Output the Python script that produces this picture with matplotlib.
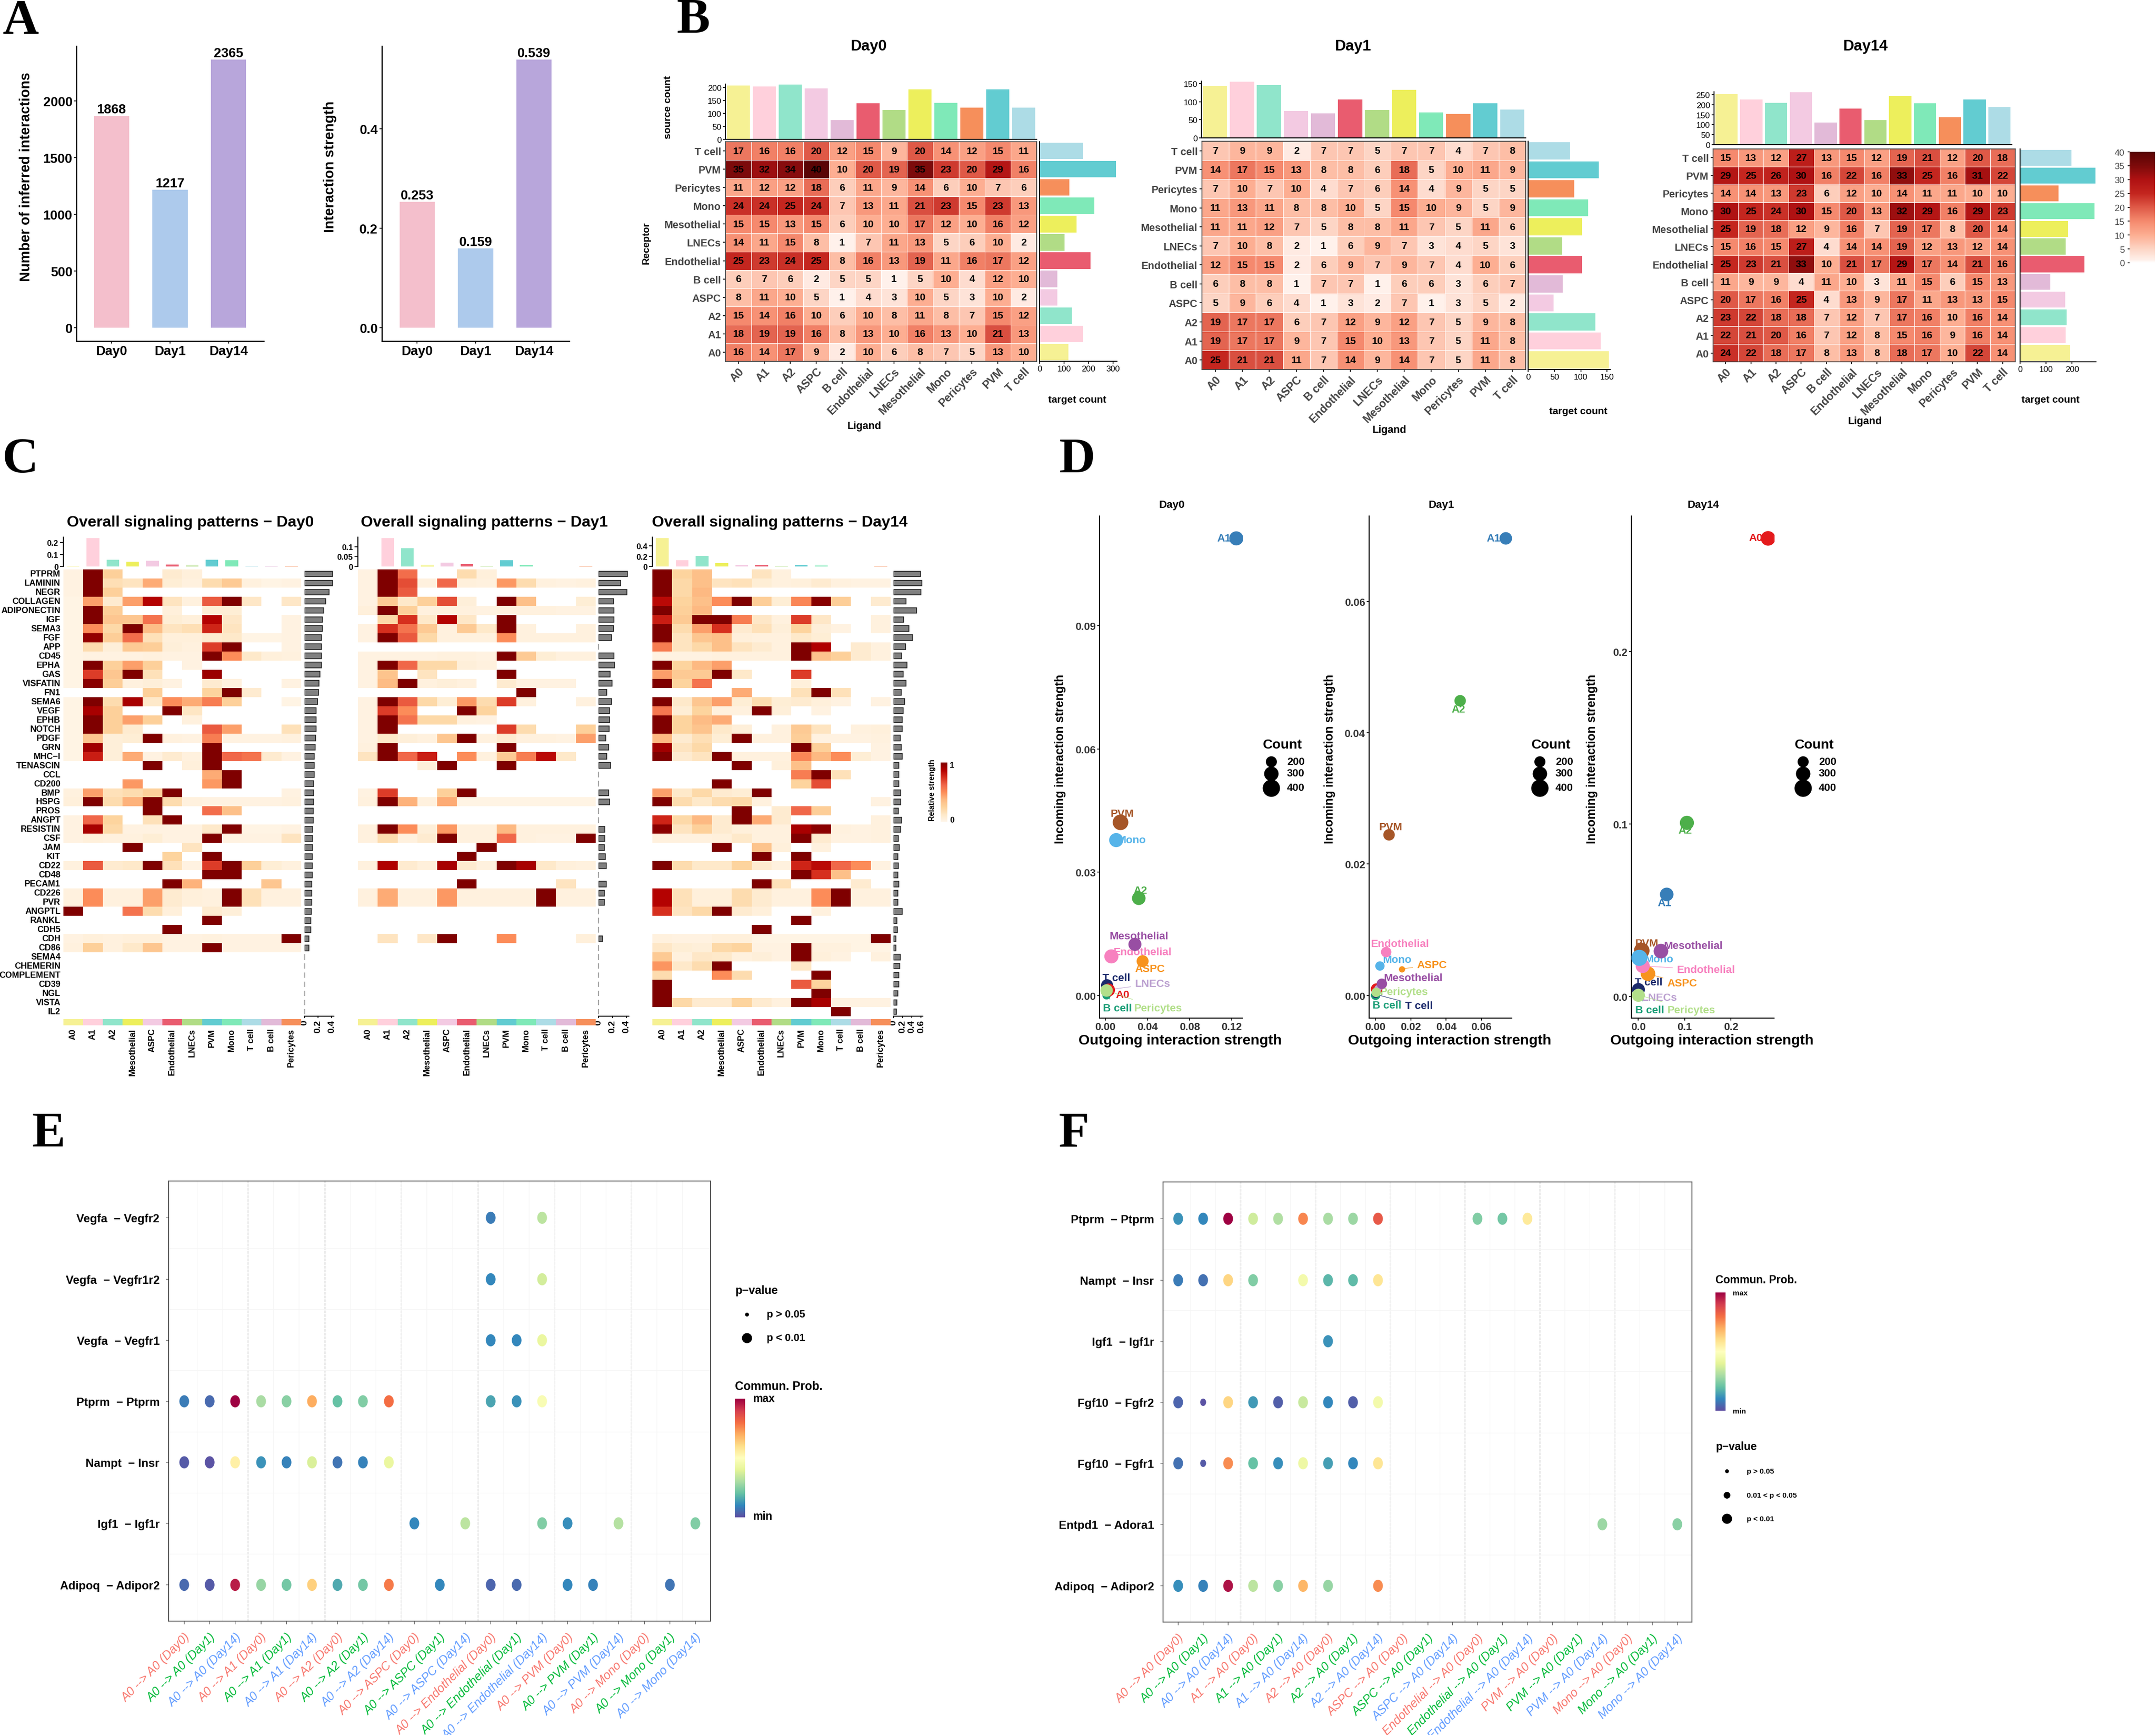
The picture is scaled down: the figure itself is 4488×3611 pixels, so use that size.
import numpy as np
import matplotlib
matplotlib.use('Agg')
import matplotlib.pyplot as plt
from matplotlib.colors import LinearSegmentedColormap
from matplotlib.markers import MarkerStyle
from matplotlib.transforms import Affine2D

plt.rcParams['font.family'] = ['Liberation Sans', 'DejaVu Sans']
plt.rcParams['axes.linewidth'] = 0.5

W, H, DPI = 4488, 3612, 300

# panel A
days = ['Day0', 'Day1', 'Day14']
n_inter = [1868, 1217, 2365]
strength = [0.253, 0.159, 0.539]
day_colors = ['#F4BFCC', '#ADCAEC', '#B8A6DB']

# panel B
b_cells = ['A0', 'A1', 'A2', 'ASPC', 'B cell', 'Endothelial', 'LNECs', 'Mesothelial', 'Mono', 'Pericytes', 'PVM', 'T cell']
b_rows = ['T cell', 'PVM', 'Pericytes', 'Mono', 'Mesothelial', 'LNECs', 'Endothelial', 'B cell', 'ASPC', 'A2', 'A1', 'A0']
cell_colors = {'A0': '#F6F194', 'A1': '#FFD0DC', 'A2': '#90E5CB', 'ASPC': '#F3CAE2', 'B cell': '#E2BAD8',
               'Endothelial': '#E95C6F', 'LNECs': '#B1DC86', 'Mesothelial': '#EDEF5C', 'Mono': '#7FE9B8',
               'Pericytes': '#F68F5B', 'PVM': '#62CCD1', 'T cell': '#ADDCE6'}

b0 = [[17, 16, 16, 20, 12, 15, 9, 20, 14, 12, 15, 11],
      [35, 32, 34, 40, 10, 20, 19, 35, 23, 20, 29, 16],
      [11, 12, 12, 18, 6, 11, 9, 14, 6, 10, 7, 6],
      [24, 24, 25, 24, 7, 13, 11, 21, 23, 15, 23, 13],
      [15, 15, 13, 15, 6, 10, 10, 17, 12, 10, 16, 12],
      [14, 11, 15, 8, 1, 7, 11, 13, 5, 6, 10, 2],
      [25, 23, 24, 25, 8, 16, 13, 19, 11, 16, 17, 12],
      [6, 7, 6, 2, 5, 5, 1, 5, 10, 4, 12, 10],
      [8, 11, 10, 5, 1, 4, 3, 10, 5, 3, 10, 2],
      [15, 14, 16, 10, 6, 10, 8, 11, 8, 7, 15, 12],
      [18, 19, 19, 16, 8, 13, 10, 16, 13, 10, 21, 13],
      [16, 14, 17, 9, 2, 10, 6, 8, 7, 5, 13, 10]]
b0_top = [208, 203, 212, 197, 74, 138, 113, 193, 140, 122, 192, 123]
b0_right = [177, 313, 122, 223, 151, 103, 209, 73, 72, 132, 176, 117]

b1 = [[7, 9, 9, 2, 7, 7, 5, 7, 7, 4, 7, 8],
      [14, 17, 15, 13, 8, 8, 6, 18, 5, 10, 11, 9],
      [7, 10, 7, 10, 4, 7, 6, 14, 4, 9, 5, 5],
      [11, 13, 11, 8, 8, 10, 5, 15, 10, 9, 5, 9],
      [11, 11, 12, 7, 5, 8, 8, 11, 7, 5, 11, 6],
      [7, 10, 8, 2, 1, 6, 9, 7, 3, 4, 5, 3],
      [12, 15, 15, 2, 6, 9, 7, 9, 7, 4, 10, 6],
      [6, 8, 8, 1, 7, 7, 1, 6, 6, 3, 6, 7],
      [5, 9, 6, 4, 1, 3, 2, 7, 1, 3, 5, 2],
      [19, 17, 17, 6, 7, 12, 9, 12, 7, 5, 9, 8],
      [19, 17, 17, 9, 7, 15, 10, 13, 7, 5, 11, 8],
      [25, 21, 21, 11, 7, 14, 9, 14, 7, 5, 11, 8]]
b1_top = [144, 156, 146, 75, 68, 106, 77, 133, 71, 66, 96, 78]
b1_right = [79, 134, 88, 114, 102, 65, 102, 66, 48, 128, 138, 153]

b14 = [[15, 13, 12, 27, 13, 15, 12, 19, 21, 12, 20, 18],
       [29, 25, 26, 30, 16, 22, 16, 33, 25, 16, 31, 22],
       [14, 14, 13, 23, 6, 12, 10, 14, 11, 11, 10, 10],
       [30, 25, 24, 30, 15, 20, 13, 32, 29, 16, 29, 23],
       [25, 19, 18, 12, 9, 16, 7, 19, 17, 8, 20, 14],
       [15, 16, 15, 27, 4, 14, 14, 19, 12, 13, 12, 14],
       [25, 23, 21, 33, 10, 21, 17, 29, 17, 14, 21, 16],
       [11, 9, 9, 4, 11, 10, 3, 11, 15, 6, 15, 13],
       [20, 17, 16, 25, 4, 13, 9, 17, 11, 13, 13, 15],
       [23, 22, 18, 18, 7, 12, 7, 17, 16, 10, 16, 14],
       [22, 21, 20, 16, 7, 12, 8, 15, 16, 9, 16, 14],
       [24, 22, 18, 17, 8, 13, 8, 18, 17, 10, 22, 14]]
b14_top = [254, 226, 210, 263, 111, 180, 124, 243, 207, 138, 226, 187]
b14_right = [197, 291, 148, 286, 184, 175, 247, 117, 173, 180, 176, 193]

# panel C
c_cols = ['A0', 'A1', 'A2', 'Mesothelial', 'ASPC', 'Endothelial', 'LNECs', 'PVM', 'Mono', 'T cell', 'B cell', 'Pericytes']
c_rows = ['PTPRM', 'LAMININ', 'NEGR', 'COLLAGEN', 'ADIPONECTIN', 'IGF', 'SEMA3', 'FGF', 'APP', 'CD45', 'EPHA', 'GAS',
          'VISFATIN', 'FN1', 'SEMA6', 'VEGF', 'EPHB', 'NOTCH', 'PDGF', 'GRN', 'MHC\u2212I', 'TENASCIN', 'CCL', 'CD200',
          'BMP', 'HSPG', 'PROS', 'ANGPT', 'RESISTIN', 'CSF', 'JAM', 'KIT', 'CD22', 'CD48', 'PECAM1', 'CD226', 'PVR',
          'ANGPTL', 'RANKL', 'CDH5', 'CDH', 'CD86', 'SEMA4', 'CHEMERIN', 'COMPLEMENT', 'CD39', 'NGL', 'VISTA', 'IL2']

z12 = [0, 0, 0, 0, 0, 0, 0, 0, 0, 0, 0, 0]
c0 = [[.04, 1, .27, 0, 0, .1, .06, 0, 0, 0, 0, 0],
      [.04, 1, .18, .15, .42, .08, .05, .2, .3, .05, .03, .04],
      [.04, 1, .27, 0, 0, 0, 0, 0, 0, 0, 0, 0],
      [.03, .45, .1, .45, .87, .15, .05, .65, 1, .13, 0, .13],
      [.03, 1, .28, 0, 0, .06, 0, .08, .08, 0, 0, 0],
      [.03, 1, .32, .32, .58, .08, .06, .87, .13, 0, 0, .04],
      [.03, .5, .22, 1, .36, .15, .18, .78, .15, 0, 0, .04],
      [.03, .95, .28, .6, .17, .06, .06, .1, .12, .03, .03, .04],
      [.03, .2, .07, .3, .28, .07, .05, .72, 1, 0, 0, .04],
      [.03, .04, .04, .04, .05, .04, .04, 1, .5, .12, .06, .05],
      [.03, 1, .27, .45, .27, 0, .04, 0, 0, 0, 0, 0],
      [.03, .72, .32, 1, .17, 0, 0, .93, 0, 0, 0, 0],
      [.03, .97, .28, .05, .07, .04, 0, .1, .05, 0, 0, .04],
      [0, 0, 0, 0, .27, 0, 0, .25, 1, .1, 0, 0],
      [.03, 1, .2, .9, .12, .5, .42, .55, .27, 0, 0, .03],
      [.03, .9, .27, 0, 0, 1, .14, 0, 0, 0, 0, 0],
      [.03, 1, .27, .45, .27, 0, .05, 0, 0, 0, 0, 0],
      [.03, 1, .27, .1, 0, 0, 0, .65, .45, 0, 0, .17],
      [.03, .32, .07, .08, 1, .05, .04, .55, .04, .04, .04, .05],
      [.03, .92, .07, 0, 0, 0, 0, 1, 0, 0, 0, 0],
      [.03, .8, .07, .42, .04, .1, .05, 1, .62, .58, .1, .04],
      [0, 0, 0, 0, 1, 0, .06, 1, 0, 0, 0, 0],
      [0, 0, 0, 0, 0, 0, 0, .42, 1, 0, 0, 0],
      [0, 0, 0, .47, 0, 0, 0, .47, 1, 0, 0, 0],
      [.05, .45, .17, .2, .27, 1, 0, 0, 0, 0, 0, .04],
      [.06, 1, .2, .4, 1, .2, .05, .04, .04, .04, .04, .05],
      [0, 0, 0, 0, 1, 0, 0, .6, .35, 0, 0, 0],
      [.04, .62, .25, 0, .17, 1, 0, 0, 0, 0, 0, 0],
      [.04, .9, .22, .04, .04, .04, .04, .12, 1, .03, .03, .04],
      [.04, .06, .05, .05, .08, .04, .04, 1, .04, .04, .04, .15],
      [0, 0, 0, 1, 0, 0, .15, 0, 0, 0, 0, 0],
      [0, 0, 0, 0, 0, .25, 0, 1, 0, 0, 0, 0],
      [.05, .65, .1, .12, 1, .17, .04, .72, 1, .27, .08, .05],
      [0, 0, 0, 0, 0, 0, 0, 1, 1, 0, 0, 0],
      [0, 0, 0, 0, 0, 1, .4, 0, 0, 0, .32, 0],
      [.05, .5, .05, .05, .45, .1, .06, .05, 1, .17, .05, .05],
      [.05, .5, .05, .05, .45, .1, .06, .05, 1, .17, .05, .05],
      [1, 0, 0, .58, .2, .06, 0, .1, .07, 0, 0, 0],
      [0, 0, 0, 0, 0, 0, 0, 1, 0, 0, 0, 0],
      [0, 0, 0, 0, 0, 1, 0, 0, 0, 0, 0, 0],
      [.04, .06, .05, .06, .06, .04, .04, .05, .04, .04, .04, 1],
      [.05, .27, .05, .12, .32, .04, .04, 1, .04, .04, .04, .04],
      z12, z12, z12, z12, z12, z12, z12]
c0_top = [.005, .233, .055, .04, .048, .015, .008, .057, .05, .004, .003, .005]
c0_right = [.413, .41, .36, .313, .287, .267, .263, .25, .247, .247, .247, .23, .217, .21, .193, .173, .17, .17, .163,
            .157, .147, .143, .143, .14, .14, .14, .127, .127, .123, .12, .12, .113, .113, .113, .107, .107, .107, .1,
            .097, .093, .07, .07, 0, 0, 0, 0, 0, 0, 0]

c1 = [[.04, 1, .6, 0, 0, .2, .06, 0, 0, 0, 0, 0],
      [.04, 1, .68, .05, .62, .06, .05, .47, .2, .05, .04, .05],
      [.04, 1, .65, 0, 0, 0, 0, 0, 0, 0, 0, 0],
      [.04, .3, .12, .27, .68, .07, 0, 1, .35, 0, 0, .08],
      [.06, 1, .27, .05, .05, .05, .04, .05, .05, .05, .04, .04],
      [0, .22, .75, .12, .87, .13, 0, 1, 0, 0, 0, 0],
      [.04, .75, .58, .3, .05, .3, .12, 1, .05, 0, 0, .05],
      [.04, 1, .65, .22, .05, .05, .05, .5, .05, .05, .05, .05],
      z12,
      [.04, .04, .04, .04, .05, .05, .04, 1, .3, .08, .05, .05],
      [.04, 1, .62, .22, .22, .07, .05, 0, 0, 0, 0, 0],
      [.04, .33, 0, .15, 0, 0, 0, 1, 0, 0, 0, 0],
      [.04, .37, 1, .05, .07, .05, 0, .1, .04, .04, .04, 0],
      [0, 0, 0, 0, 0, 0, 0, 0, 1, 0, 0, 0],
      [.04, 1, .65, .22, .08, .47, .2, .72, .05, 0, 0, .05],
      [.04, .72, .5, 0, 0, 1, .25, 0, 0, 0, 0, 0],
      [.04, 1, .58, .22, .22, .05, .04, 0, 0, 0, 0, 0],
      [.04, 1, 0, 0, 0, 0, 0, .72, .2, 0, 0, .27],
      [.04, .12, .07, .05, .32, 1, .05, .1, .05, .05, .04, .45],
      [.05, 1, 0, 0, 0, 0, 0, 1, 0, 0, 0, 0],
      [.15, 1, .62, .8, 0, .5, .05, .3, .55, .85, .12, 0],
      [0, 0, 0, .07, 1, 0, 0, 1, 0, 0, 0, 0],
      z12, z12,
      [.04, .72, 0, 0, .27, 1, 0, 0, 0, 0, 0, 0],
      [.05, 1, .4, .05, .42, .03, .03, .03, .03, .03, .03, .03],
      z12, z12,
      [.05, 1, .5, .07, .47, .05, .05, .38, .05, .05, .05, .05],
      [.05, .2, .05, .1, 1, .05, .05, .62, .05, .04, .04, 1],
      [0, 0, 0, 0, 0, 0, 1, 0, 0, 0, 0, 0],
      [0, 0, 0, 0, 0, 1, 0, 0, 0, 0, 0, 0],
      [.05, .88, .1, .06, .9, .1, .05, 1, .9, .12, .06, .05],
      z12,
      [0, 0, 0, 0, 0, 1, 0, 0, 0, 0, .15, 0],
      [.05, .42, .05, .05, .47, .05, .05, .05, .05, 1, .05, .05],
      [.05, .42, .05, .05, .47, .05, .05, .05, .05, 1, .05, .05],
      z12, z12, z12,
      [0, .15, 0, .13, 1, 0, 0, .5, 0, 0, 0, .06],
      z12, z12, z12, z12, z12, z12, z12, z12]
c1_top = [.001, .143, .093, .006, .02, .013, .002, .031, .007, .001, .0005, .002]
c1_right = [.41, .316, .406, .212, .22, .22, .215, .183, 0, .22, .226, .163, .193, .12, .183, .158, .158, .15, .104,
            .142, .12, .172, 0, 0, .144, .158, 0, 0, .087, .087, .08, .093, .11, 0, .108, .085, .085, 0, 0, 0, .057,
            0, 0, 0, 0, 0, 0, 0, 0]

c14 = [[1, .25, .35, 0, 0, .15, .05, 0, 0, 0, 0, 0],
       [1, .22, .35, .15, .17, .08, .05, .06, .1, .05, .04, .04],
       [1, .22, .38, 0, 0, 0, 0, 0, 0, 0, 0, 0],
       [.85, .25, .35, .5, 1, .28, .08, .52, .98, .28, 0, .1],
       [1, .27, .38, 0, 0, 0, 0, 0, 0, 0, 0, 0],
       [.8, .3, 1, 1, .55, .13, .05, .72, .13, 0, 0, .05],
       [1, .2, .45, .75, .1, .17, .07, .25, .07, .04, 0, .05],
       [1, .15, .32, .35, .06, .05, .05, .12, .08, 0, 0, 0],
       [.55, .15, .22, .35, .15, .1, .05, 1, .88, 0, .1, .05],
       [.04, .04, .04, .05, .05, .05, .05, 1, .33, .27, .1, .05],
       [1, .25, .38, .45, 0, 0, 0, 0, 0, 0, 0, 0],
       [.45, .3, .3, 1, .12, 0, 0, .72, 0, 0, 0, 0],
       [1, .25, .58, 0, 0, 0, 0, .06, 0, 0, 0, 0],
       [0, 0, 0, 0, .42, 0, 0, .17, 1, .17, 0, 0],
       [1, .12, .32, .45, .08, .2, .08, .1, .06, .04, 0, .04],
       [.57, .08, .25, .05, .05, 1, .07, 0, .04, 0, 0, 0],
       [1, .25, .37, .42, 0, 0, 0, 0, 0, 0, 0, 0],
       [1, .25, .33, .12, .07, 0, .05, .3, .15, 0, .05, .06],
       [.38, .1, .18, .08, 1, .05, .05, .28, .04, .04, .04, .05],
       [.92, .15, .22, 0, 0, 0, 0, 1, .27, 0, 0, .04],
       [1, .1, .15, 1, .05, .05, .05, .52, .38, .5, .08, .04],
       [0, 0, 0, 0, 1, 0, .06, .35, 0, 0, 0, 0],
       [0, 0, 0, 0, 0, 0, 0, .55, 1, .17, 0, 0],
       [0, 0, 0, 1, 0, 0, 0, .25, .68, 0, 0, 0],
       [.45, .12, .22, .1, .08, 1, 0, 0, 0, 0, 0, 0],
       [1, .2, .12, .2, .22, .05, 0, 0, 0, 0, 0, .04],
       [0, 0, 0, 0, 1, 0, .1, .62, .28, 0, 0, 0],
       [.78, .22, .38, .1, 1, .42, .1, 0, 0, 0, 0, .05],
       [.97, .15, .27, .1, .06, .05, .05, .9, .97, .05, .04, .05],
       [.05, .05, .05, .06, .12, .05, .05, 1, .1, .04, .04, .05],
       [0, 0, 0, 1, 0, .33, .06, 0, .05, 0, 0, 0],
       [0, 0, 0, 0, 0, 1, 0, 1, 0, 0, 0, 0],
       [1, .2, .12, .12, .25, .1, .05, .78, .85, .62, .5, .04],
       [0, 0, 0, 0, 0, 0, 0, 1, .75, .35, 0, 0],
       [0, 0, 0, 0, 0, 1, .17, 0, 0, 0, .1, 0],
       [.87, .17, .06, .06, .2, .1, .05, .05, .5, 1, .05, .05],
       [.87, .17, .06, .06, .2, .1, .05, .05, .5, 1, .05, .05],
       [.75, .15, .22, 1, .1, .06, 0, 0, .05, 0, 0, 0],
       [0, 0, 0, 0, 0, 0, 0, 1, 0, 0, 0, 0],
       [0, 0, 0, 0, 0, 1, 0, 0, 0, 0, 0, 0],
       [.05, .04, .04, .06, .06, .03, .03, .03, .03, .03, .03, 1],
       [.13, .08, .07, .22, .25, .04, .04, 1, .05, .05, .03, .03],
       [.3, .05, .13, .12, .05, .07, .04, 1, .06, .04, 0, .05],
       [.48, .12, .2, 1, 0, 0, 0, .13, 0, 0, 0, 0],
       [.2, 0, 0, .5, .2, 0, 0, 0, 1, 0, 0, 0],
       [1, 0, 0, 0, 0, 0, 0, .65, .25, 0, 0, 0],
       [1, 0, 0, 0, 0, 0, 0, 0, 1, 0, 0, 0],
       [1, .22, .1, .1, .25, .1, .05, 1, .9, .04, .04, .04],
       [0, 0, 0, 0, 0, 0, 0, 0, 0, 1, 0, 0]]
c14_top = [.55, .12, .207, .07, .03, .03, .007, .03, .02, .004, .003, .006]
c14_right = [.59, .62, .6, .27, .5, .22, .33, .42, .26, .18, .29, .21, .27, .165, .245, .205, .185, .185, .15, .165,
             .19, .12, .115, .115, .16, .16, .1, .175, .155, .105, .125, .095, .105, .09, .11, .09, .09, .19, .075,
             .08, .05, .05, .145, .14, .115, .11, .09, .07, .06]

# panel D, draw order goes back to front
d_colors = {'A0': '#E41A1C', 'A1': '#377EB8', 'A2': '#4DAF4A', 'ASPC': '#F7931E', 'B cell': '#1B9E77',
            'Endothelial': '#F781BF', 'LNECs': '#BBA0D0', 'Mesothelial': '#984EA3', 'Mono': '#56B4E9',
            'Pericytes': '#B2DF8A', 'PVM': '#A65628', 'T cell': '#1B2A6B'}
d_names = ['B cell', 'T cell', 'A0', 'LNECs', 'Pericytes', 'ASPC', 'Endothelial', 'Mesothelial', 'A2', 'PVM', 'Mono', 'A1']
d0_out = [.001, .0015, .003, .0015, .001, .0351, .0054, .0277, .0316, .0143, .0099, .124]
d0_in = [.0001, .0025, .0014, .0013, .00125, .0084, .0095, .0125, .0237, .0422, .0378, .1113]
d0_count = [114, 230, 263, 180, 246, 230, 297, 263, 280, 346, 297, 297]
d1_out = [0, 0, .0006, .0015, .0003, .015, .0059, .0035, .0479, .00765, .00235, .0735]
d1_in = [.00006, .00017, .001, .00106, .0005, .00403, .00666, .0018, .0449, .02446, .00453, .0696]
d1_count = [146, 80, 214, 80, 146, 46, 180, 180, 214, 214, 146, 246]
d14_out = [0, 0, .2798, 0, 0, .0202, .009, .0483, .1045, .0067, .0022, .0607]
d14_in = [.0009, .00405, .2659, .0015, .0009, .0132, .0177, .0264, .1009, .0267, .0224, .0593]
d14_count = [180, 263, 313, 180, 263, 313, 297, 313, 297, 346, 363, 280]

# panels E and F
e_pairs = ['Vegfa  \u2212 Vegfr2', 'Vegfa  \u2212 Vegfr1r2', 'Vegfa  \u2212 Vegfr1', 'Ptprm  \u2212 Ptprm', 'Nampt  \u2212 Insr',
           'Igf1  \u2212 Igf1r', 'Adipoq  \u2212 Adipor2']
e_targets = ['A0', 'A1', 'A2', 'ASPC', 'Endothelial', 'PVM', 'Mono']
e_values = [{12: .08, 14: .33},
            {12: .1, 14: .37},
            {12: .1, 13: .1, 14: .42},
            {0: .08, 1: .05, 2: 1.0, 3: .3, 4: .25, 5: .7, 6: .2, 7: .24, 8: .8, 12: .15, 13: .12, 14: .47},
            {0: .02, 1: .01, 2: .55, 3: .12, 4: .09, 5: .38, 6: .07, 7: .09, 8: .42},
            {9: .1, 11: .33, 14: .24, 15: .11, 17: .32, 20: .24},
            {0: .05, 1: .02, 2: .95, 3: .27, 4: .22, 5: .63, 6: .16, 7: .22, 8: .78, 10: .1, 12: .04, 13: .05, 15: .1,
             16: .09, 19: .07}]
f_pairs = ['Ptprm  \u2212 Ptprm', 'Nampt  \u2212 Insr', 'Igf1  \u2212 Igf1r', 'Fgf10  \u2212 Fgfr2', 'Fgf10  \u2212 Fgfr1',
           'Entpd1  \u2212 Adora1', 'Adipoq  \u2212 Adipor2']
f_values = [{0: .12, 1: .1, 2: 1.0, 3: .36, 4: .31, 5: .76, 6: .3, 7: .28, 8: .84, 12: .24, 13: .22, 14: .57},
            {0: .08, 1: .06, 2: .62, 3: .24, 5: .45, 6: .18, 7: .19, 8: .58},
            {6: .12},
            {0: .04, 1: .01, 2: .62, 3: .13, 4: .03, 5: .35, 6: .1, 7: .03, 8: .45},
            {0: .06, 1: .02, 2: .75, 3: .2, 4: .11, 5: .43, 6: .14, 7: .1, 8: .58},
            {17: .28, 20: .25},
            {0: .11, 1: .09, 2: .97, 3: .33, 4: .25, 5: .68, 6: .27, 8: .75}]
f_small = [(3, 1), (4, 1)]

fig = plt.figure(figsize=(W / DPI, H / DPI), dpi=DPI)

reds = LinearSegmentedColormap.from_list('cnt', [(0, '#FFFFFF'), (.025, '#FFF0EA'), (.125, '#FDD5C5'), (.25, '#FDAE92'),
                                                 (.375, '#F58A6E'), (.5, '#DF5A48'), (.625, '#C4261F'),
                                                 (.75, '#B01213'), (.875, '#7D0B0B'), (1, '#5A0505')])
orrd = plt.get_cmap('OrRd')
spectral = plt.get_cmap('Spectral_r')
tall_dot = MarkerStyle('o', transform=Affine2D().scale(.88, 1.1))


def px_axes(x0, y0, x1, y1):
    return fig.add_axes([x0 / W, 1 - y1 / H, (x1 - x0) / W, (y1 - y0) / H])


def txt(x, y, s, size=5.5, weight='bold', ha='center', va='center', **kw):
    return fig.text(x / W, 1 - y / H, s, fontsize=size, fontweight=weight, ha=ha, va=va, **kw)


def px_to_s(d):
    return (d * 72 / DPI) ** 2


for s, x, y in [('A', 44, 45), ('B', 1443, 43), ('C', 42, 958), ('D', 2242, 958), ('E', 101, 2361), ('F', 2235, 2361)]:
    txt(x, y, s, size=25, family='Liberation Serif')


def panel_a(x0, x1, vals, ylim, ticks, labels, ylabel, ylabel_x, ylabel_y, fmt):
    ax = px_axes(x0, 97, x1, 711)
    ax.bar(range(3), vals, width=0.6, color=day_colors)
    ax.set_xlim(-0.6, 2.6)
    ax.set_ylim(*ylim)
    ax.set_xticks(range(3))
    ax.set_xticklabels(days, fontsize=6.6, fontweight='bold')
    ax.set_yticks(ticks)
    ax.set_yticklabels(labels, fontsize=6.6, fontweight='bold')
    ax.tick_params(length=1.2, width=0.4, pad=0.8)
    ax.spines[['top', 'right']].set_visible(False)
    ax.spines[['left', 'bottom']].set_linewidth(0.6)
    for i, v in enumerate(vals):
        ax.text(i, v, fmt % v, ha='center', va='bottom', fontsize=6.6, fontweight='bold')
    txt(ylabel_x, ylabel_y, ylabel, size=7, rotation=90)


panel_a(159, 549, n_inter, (-118, 2483), [0, 500, 1000, 1500, 2000], ['0', '500', '1000', '1500', '2000'],
        'Number of inferred interactions', 54, 368, '%d')
panel_a(795, 1185, strength, (-0.027, 0.566), [0, .2, .4], ['0.0', '0.2', '0.4'],
        'Interaction strength', 687, 347, '%.3f')


def panel_b(title, mat, top, right, hx0, hy0, hx1, hy1, top_box, top_lim, top_ticks, right_box, right_lim, right_ticks,
            title_x, lig, tgt):
    mat = np.array(mat)
    ax = px_axes(hx0, hy0, hx1, hy1)
    ax.pcolormesh(mat, cmap=reds, vmin=0, vmax=40, edgecolors='#FFFFFF', linewidth=0.15)
    ax.invert_yaxis()
    for r in range(12):
        for c in range(12):
            ax.text(c + .5, r + .5, str(mat[r, c]), ha='center', va='center', fontsize=5, fontweight='bold')
    ax.set_xticks(np.arange(12) + .5)
    ax.set_xticklabels(b_cells, rotation=45, ha='right', rotation_mode='anchor', fontsize=5.6, fontweight='bold',
                       color='#444444')
    ax.set_yticks(np.arange(12) + .5)
    ax.set_yticklabels(b_rows, fontsize=5.2, fontweight='bold', color='#444444')
    ax.tick_params(length=1.2, width=0.4, pad=1)
    for sp in ax.spines.values():
        sp.set_linewidth(0.4)
        sp.set_color('#333333')

    at = px_axes(*top_box)
    at.bar(range(12), top, width=.9, color=[cell_colors[c] for c in b_cells])
    at.set_xlim(-.5, 11.5)
    at.set_ylim(0, top_lim)
    at.set_xticks([])
    at.set_yticks(top_ticks)
    at.tick_params(length=1.2, width=0.4, pad=0.8, labelsize=4.2)
    at.spines[['top', 'right']].set_visible(False)

    ar = px_axes(*right_box)
    ar.barh(range(12), right, height=.9, color=[cell_colors[c] for c in b_rows])
    ar.set_ylim(11.5, -.5)
    ar.set_xlim(0, right_lim)
    ar.set_yticks([])
    ar.set_xticks(right_ticks)
    ar.tick_params(length=1.2, width=0.4, pad=0.8, labelsize=4.2)
    ar.spines[['top', 'right']].set_visible(False)

    txt(title_x, 97, title, size=7.6)
    txt(lig[0], lig[1], 'Ligand', size=5.2)
    txt(tgt[0], tgt[1], 'target count', size=5)


panel_b('Day0', b0, b0_top, b0_right, 1510, 296, 2158, 753, (1510, 176, 2158, 291), 213, [0, 50, 100, 150, 200],
        (2164, 296, 2325, 753), 316, [0, 100, 200, 300], 1809, (1799, 888), (2242, 832))
panel_b('Day1', b1, b1_top, b1_right, 2502, 295, 3176, 770, (2501, 170, 3176, 288), 157, [0, 50, 100, 150],
        (3181, 295, 3352, 770), 156, [0, 50, 100, 150], 2817, (2892, 895), (3285, 857))
panel_b('Day14', b14, b14_top, b14_right, 3566, 311, 4195, 754, (3568, 192, 4188, 302), 265, [0, 50, 100, 150, 200, 250],
        (4205, 311, 4363, 754), 292, [0, 100, 200], 3884, (3882, 878), (4268, 833))
txt(1345, 506, 'Receptor', size=4.9, rotation=90)
txt(1391, 223, 'source count', size=5, rotation=90)

cb = px_axes(4433, 317, 4486, 548)
cb.imshow(np.linspace(40, 0, 256)[:, None], aspect='auto', cmap=reds, vmin=0, vmax=40, extent=(0, 1, 0, 40))
cb.set_xticks([])
cb.set_yticks(range(0, 41, 5))
cb.tick_params(length=1, width=0.4, pad=1.5, labelsize=4.5, labelcolor='#444444')
for sp in cb.spines.values():
    sp.set_visible(False)


def panel_c(title, mat, top, right, hx0, hx1, top_lim, top_ticks, top_labels, rx0, rx1, r_lim, r_ticks, title_x):
    mat = np.ma.masked_equal(np.array(mat, dtype=float), 0)
    y0, y1 = 1186, 2116
    ax = px_axes(hx0, y0, hx1, y1)
    ax.pcolormesh(mat, cmap=orrd, vmin=0, vmax=1)
    ax.invert_yaxis()
    ax.axis('off')

    at = px_axes(hx0, 1119, hx1, 1180)
    at.bar(range(12), top, width=.64, color=[cell_colors[c] for c in c_cols])
    at.set_xlim(-.5, 11.5)
    at.set_ylim(0, top_lim)
    at.set_xticks([])
    at.set_yticks(top_ticks)
    at.set_yticklabels(top_labels, fontsize=4.1, fontweight='bold')
    at.tick_params(length=1.6, width=0.4, pad=0.8)
    at.spines[['top', 'right', 'bottom']].set_visible(False)

    ar = px_axes(rx0, y0, rx1, y1)
    ar.barh(range(49), right, height=.62, color='#808080', edgecolor='#222222', linewidth=0.4)
    ar.set_ylim(48.5, -.5)
    ar.set_xlim(0, r_lim)
    ar.set_yticks([])
    ar.set_xticks(r_ticks)
    ar.set_xticklabels(['0' if t == 0 else '%.1f' % t for t in r_ticks], rotation=90, fontsize=4.6, fontweight='bold')
    ar.tick_params(length=1, width=0.4, pad=0.8)
    ar.spines[['top', 'right', 'left']].set_visible(False)

    strip = px_axes(hx0, 2122, hx1, 2134.5)
    strip.bar(range(12), [1] * 12, width=1, color=[cell_colors[c] for c in c_cols])
    strip.set_xlim(-.5, 11.5)
    strip.set_ylim(0, 1)
    strip.set_xticks(range(12))
    strip.set_xticklabels(c_cols, rotation=90, fontsize=4.3, fontweight='bold')
    strip.set_yticks([])
    strip.tick_params(length=0, pad=1.5)
    for sp in strip.spines.values():
        sp.set_visible(False)

    txt(title_x, 1088, title, size=7.8)


panel_c('Overall signaling patterns \u2212 Day0', c0, c0_top, c0_right, 131.5, 627, .2424, [0, .1, .2], ['0', '0.1', '0.2'],
        633.5, 695, .433, [0, .2, .4], 396)
panel_c('Overall signaling patterns \u2212 Day1', c1, c1_top, c1_right, 745, 1240, .148, [0, .05, .1], ['0', '0.05', '0.1'],
        1246, 1309, .434, [0, .2, .4], 1008)
panel_c('Overall signaling patterns \u2212 Day14', c14, c14_top, c14_right, 1358, 1854, .571, [0, .2, .4], ['0', '0.2', '0.4'],
        1860, 1921, .638, [0, .2, .4, .6], 1623)
for i, s in enumerate(c_rows):
    txt(126, 1186 + 18.98 * (i + .5), s, size=4.3, ha='right')

cb = px_axes(1958, 1588, 1972, 1712)
cb.imshow(np.linspace(1, 0, 256)[:, None], aspect='auto', cmap=orrd, vmin=0, vmax=1)
cb.axis('off')
txt(1982, 1594, '1', size=4)
txt(1982, 1708, '0', size=4)
txt(1941, 1645, 'Relative strength', size=3.8, rotation=90)


def dsize(count):
    return 23 + .065 * (count - 200)


def panel_d(title, xs, ys, counts, x0, x1, xlim, ylim, xticks, xfmt, yticks, yfmt, labels, leg_x):
    ax = px_axes(x0, 1075, x1, 2120)
    for n, x, y, c in zip(d_names, xs, ys, counts):
        ax.scatter(x, y, s=px_to_s(dsize(c)), color=d_colors[n], linewidths=0, zorder=5)
    for n, x, y, c in zip(d_names, xs, ys, counts):
        if n not in labels:
            continue
        dx, dy, line = labels[n]
        arrow = dict(arrowstyle='-', color=d_colors[n], lw=0.25, shrinkA=0, shrinkB=0) if line else None
        ax.annotate(n, xy=(x, y), xytext=(dx, dy), textcoords='offset pixels', ha='center', va='center', fontsize=5.4,
                    fontweight='bold', color=d_colors[n], arrowprops=arrow, zorder=4)
    ax.set_xlim(*xlim)
    ax.set_ylim(*ylim)
    ax.set_xticks(xticks)
    ax.set_xticklabels([xfmt % t for t in xticks], fontsize=5.3, fontweight='bold', color='#333333')
    ax.set_yticks(yticks)
    ax.set_yticklabels([yfmt % t for t in yticks], fontsize=5.3, fontweight='bold', color='#333333')
    ax.tick_params(length=1.2, width=0.4, pad=0.8)
    ax.spines[['top', 'right']].set_visible(False)
    txt(x0 + 150, 1051, title, size=5.4)
    txt(x0 + 168, 2166, 'Outgoing interaction strength', size=7.2)
    txt(x0 - 82, 1580, 'Incoming interaction strength', size=6, rotation=90)
    txt(leg_x + 24, 1551, 'Count', size=6.8)
    for c, y in zip([200, 300, 400], [1586, 1611, 1641]):
        d = {200: 23, 300: 30, 400: 36}[c]
        lax.scatter(leg_x, y, s=px_to_s(d), color='k', linewidths=0)
        txt(leg_x + 33, y, str(c), size=5.3, ha='left')


lax = px_axes(0, 0, W, H)
lax.set_xlim(0, W)
lax.set_ylim(H, 0)
lax.axis('off')
lax.set_zorder(5)

panel_d('Day0', d0_out, d0_in, d0_count, 2289, 2586, (-.0054, .130), (-.00555, .1167), [0, .04, .08, .12], '%.2f',
        [0, .03, .06, .09], '%.2f',
        {'A1': (-25, 0, 0), 'PVM': (4, 17, 0), 'Mono': (33, 0, 0), 'A2': (4, 15, 0), 'Mesothelial': (9, 16, 0),
         'Endothelial': (66, 9, 0), 'ASPC': (16, -17, 0), 'T cell': (20, 15, 0), 'LNECs': (95, 13, 1),
         'A0': (29, -11, 0), 'B cell': (23, -28, 1), 'Pericytes': (108, -38, 1)}, 2646)
panel_d('Day1', d1_out, d1_in, d1_count, 2850, 3147, (-.0035, .0771), (-.00347, .073), [0, .02, .04, .06], '%.2f',
        [0, .02, .04, .06], '%.2f',
        {'A1': (-25, 0, 0), 'A2': (-4, -18, 0), 'PVM': (4, 16, 0), 'Endothelial': (30, 16, 0), 'Mono': (37, 12, 0),
         'ASPC': (62, 8, 1), 'Mesothelial': (66, 11, 0), 'Pericytes': (59, 0, 0), 'B cell': (24, -22, 1),
         'T cell': (91, -24, 1)}, 3205)
panel_d('Day14', d14_out, d14_in, d14_count, 3396, 3693, (-.0146, .2933), (-.0126, .2787), [0, .1, .2], '%.1f',
        [0, .1, .2], '%.1f',
        {'A0': (-25, 0, 0), 'A2': (-3, -17, 0), 'A1': (-4, -18, 0), 'PVM': (11, 15, 0), 'Mesothelial': (68, 11, 0),
         'Mono': (41, -3, 0), 'Endothelial': (132, -8, 1), 'ASPC': (72, -20, 1), 'T cell': (22, 15, 0),
         'LNECs': (44, -8, 0), 'B cell': (24, -32, 1), 'Pericytes': (110, -32, 1)}, 3753)


def panel_dot(pairs, values, xlabels, box, small=()):
    ax = px_axes(*box)
    for r, row in enumerate(values):
        for c, v in row.items():
            d = 14 if (r, c) in small else 23
            ax.scatter(c, r, s=px_to_s(d), color=spectral(float(v)), marker=tall_dot, linewidths=0, zorder=3)
    ax.set_xlim(-.6, 20.6)
    ax.set_ylim(6.6, -.6)
    ax.set_xticks(range(21))
    ax.set_xticklabels(xlabels, rotation=45, ha='right', rotation_mode='anchor', fontsize=6.1, style='italic')
    for i, t in enumerate(ax.get_xticklabels()):
        t.set_color(['#F8766D', '#00BA38', '#619CFF'][i % 3])
    ax.set_yticks(range(7))
    ax.set_yticklabels(pairs, fontsize=5.8, fontweight='bold')
    ax.tick_params(length=1.5, width=0.3, color='#555555')
    ax.tick_params(axis='x', pad=3.5)
    ax.tick_params(axis='y', pad=3)
    ax.set_xticks(np.arange(.5, 20), minor=True)
    ax.set_yticks(np.arange(.5, 6), minor=True)
    ax.tick_params(which='minor', length=0)
    ax.grid(which='minor', color='#F5F5F5', lw=0.3, zorder=0)
    for g in np.arange(2.5, 20, 3):
        ax.axvline(g, color='#999999', lw=0.35, ls='--', zorder=1)
    for sp in ax.spines.values():
        sp.set_linewidth(0.4)
        sp.set_color('#333333')


e_labels = ['A0 --> %s (%s)' % (t, d) for t in e_targets for d in days]
f_labels = ['%s --> A0 (%s)' % (t, d) for t in e_targets for d in days]
panel_dot(e_pairs, e_values, e_labels, (351, 2459, 1479, 3375))
panel_dot(f_pairs, f_values, f_labels, (2421, 2461, 3522, 3377), small=f_small)

txt(1530, 2687, 'p\u2212value', size=5.7, ha='left')
lax.scatter([1555, 1555], [2737, 2786], s=[px_to_s(8), px_to_s(21)], color='k', linewidths=0)
txt(1596, 2737, 'p > 0.05', size=5.2, ha='left')
txt(1596, 2786, 'p < 0.01', size=5.2, ha='left')
txt(1530, 2886, 'Commun. Prob.', size=5.9, ha='left')
cb = px_axes(1530, 2912, 1551, 3159)
cb.imshow(np.linspace(1, 0, 256)[:, None], aspect='auto', cmap=spectral)
cb.axis('off')
txt(1567, 2912, 'max', size=5.5, ha='left')
txt(1567, 3157, 'min', size=5.5, ha='left')

txt(3571, 2665, 'Commun. Prob.', size=5.5, ha='left')
cb = px_axes(3571, 2691, 3592, 2937)
cb.imshow(np.linspace(1, 0, 256)[:, None], aspect='auto', cmap=spectral)
cb.axis('off')
txt(3607, 2692, 'max', size=3.7, ha='left')
txt(3607, 2938, 'min', size=3.7, ha='left')
txt(3571, 3012, 'p\u2212value', size=5.5, ha='left')
lax.scatter([3595] * 3, [3063, 3113, 3162], s=[px_to_s(8), px_to_s(14), px_to_s(21)], color='k', linewidths=0)
txt(3636, 3063, 'p > 0.05', size=3.7, ha='left')
txt(3636, 3113, '0.01 < p < 0.05', size=3.7, ha='left')
txt(3636, 3162, 'p < 0.01', size=3.7, ha='left')

fig.savefig('out.png', dpi=DPI)
